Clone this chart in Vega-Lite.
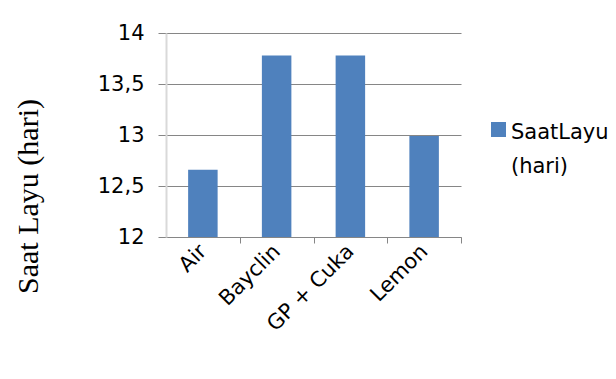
{
  "$schema": "https://vega.github.io/schema/vega-lite/v6.json",
  "width": 295,
  "height": 204,
  "autosize": {"type": "none"},
  "padding": {"left": 166, "top": 33, "right": 155, "bottom": 142},
  "background": "white",
  "data": {
    "values": [
      {"perlakuan": "Air", "saat_layu": 12.66, "seri": "SaatLayu (hari)"},
      {"perlakuan": "Bayclin", "saat_layu": 13.78, "seri": "SaatLayu (hari)"},
      {"perlakuan": "GP + Cuka", "saat_layu": 13.78, "seri": "SaatLayu (hari)"},
      {"perlakuan": "Lemon", "saat_layu": 12.99, "seri": "SaatLayu (hari)"}
    ]
  },
  "mark": {"type": "bar"},
  "encoding": {
    "x": {
      "field": "perlakuan",
      "type": "nominal",
      "sort": null,
      "scale": {"paddingInner": 0.6, "paddingOuter": 0.3},
      "axis": {
        "title": null,
        "labelAngle": -45,
        "labelAlign": "right",
        "labelBaseline": "middle",
        "tickOffset": 36.875,
        "labelOffset": -36.875,
        "tickSize": 6,
        "tickColor": "#868686",
        "domainColor": "#868686",
        "labelFont": "DejaVu Sans",
        "labelFontSize": 21,
        "labelColor": "#000000",
        "labelPadding": 5
      }
    },
    "y": {
      "field": "saat_layu",
      "type": "quantitative",
      "scale": {"domain": [12, 14], "zero": false},
      "axis": {
        "title": "Saat Layu (hari)",
        "values": [12, 12.5, 13, 13.5, 14],
        "labelExpr": "replace(format(datum.value, '.1~f'), '.', ',')",
        "grid": true,
        "gridColor": "#868686",
        "tickColor": "#868686",
        "tickSize": 8,
        "domainColor": "#d9d9d9",
        "domainWidth": 2,
        "labelFont": "DejaVu Sans",
        "labelFontSize": 21,
        "labelColor": "#000000",
        "labelPadding": 14,
        "titleFont": "Liberation Serif",
        "titleFontSize": 30,
        "titleFontWeight": "normal",
        "titleColor": "#000000",
        "titleAngle": 270,
        "titleX": -138,
        "titleY": 163,
        "titleAlign": "center",
        "titleBaseline": "middle"
      }
    },
    "y2": {"datum": 12},
    "color": {
      "field": "seri",
      "type": "nominal",
      "scale": {"range": ["#4F81BD"]},
      "legend": {
        "title": null,
        "orient": "none",
        "legendX": 322,
        "legendY": 86,
        "symbolType": "square",
        "symbolSize": 225,
        "symbolStrokeWidth": 0,
        "labelFont": "DejaVu Sans",
        "labelFontSize": 21,
        "labelColor": "#000000",
        "labelExpr": "['SaatLayu', '(hari)']",
        "labelBaseline": "top",
        "labelOffset": 2,
        "encode": {"labels": {"update": {"lineHeight": {"value": 34}, "dy": {"value": -8}}}}
      }
    }
  },
  "config": {"view": {"stroke": null}}
}
